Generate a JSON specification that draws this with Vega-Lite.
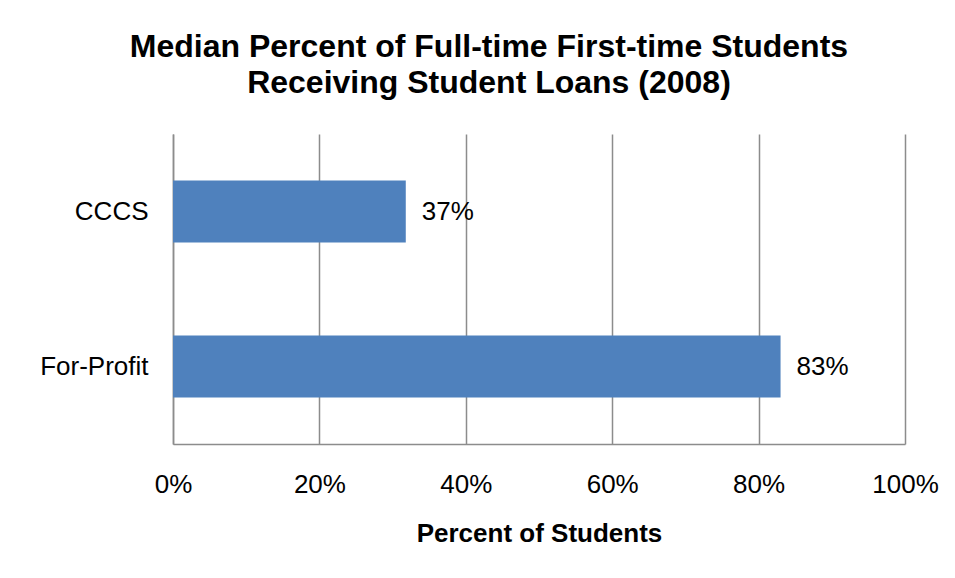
{
  "$schema": "https://vega.github.io/schema/vega-lite/v6.json",
  "width": 732,
  "height": 310,
  "autosize": {"type": "none"},
  "padding": {"left": 173, "top": 134, "right": 50, "bottom": 134},
  "background": "white",
  "title": {
    "text": ["Median Percent of Full-time First-time Students", "Receiving Student Loans (2008)"],
    "font": "Liberation Sans",
    "fontSize": 32,
    "fontWeight": "bold",
    "lineHeight": 36,
    "color": "black",
    "anchor": "middle",
    "frame": "bounds",
    "offset": 34
  },
  "data": {
    "values": [
      {"sector": "CCCS", "value": 31.8, "label": "37%"},
      {"sector": "For-Profit", "value": 83, "label": "83%"}
    ]
  },
  "config": {
    "view": {"stroke": null},
    "font": "Liberation Sans",
    "axis": {
      "labelFont": "Liberation Sans",
      "titleFont": "Liberation Sans",
      "labelColor": "black",
      "titleColor": "black",
      "domainColor": "#8c8c8c",
      "gridColor": "#8c8c8c",
      "domainWidth": 1.5,
      "gridWidth": 1.5
    }
  },
  "encoding": {
    "y": {
      "field": "sector",
      "type": "nominal",
      "sort": ["CCCS", "For-Profit"],
      "scale": {"paddingInner": 0.6, "paddingOuter": 0.3},
      "axis": {
        "title": null,
        "ticks": false,
        "grid": false,
        "domain": true,
        "labelFontSize": 26,
        "labelPadding": 25
      }
    },
    "x": {
      "field": "value",
      "type": "quantitative",
      "scale": {"domain": [0, 100], "nice": false},
      "axis": {
        "title": "Percent of Students",
        "titleFontSize": 26,
        "titleFontWeight": "bold",
        "titlePadding": 23,
        "values": [0, 20, 40, 60, 80, 100],
        "labelExpr": "datum.value + '%'",
        "labelFontSize": 26,
        "labelPadding": 27,
        "ticks": false,
        "grid": true,
        "domain": true,
        "labelFlush": false
      }
    }
  },
  "layer": [
    {"mark": {"type": "bar", "color": "#4F81BD"}},
    {
      "mark": {"type": "text", "align": "left", "baseline": "middle", "dx": 16, "fontSize": 26, "color": "black"},
      "encoding": {"text": {"field": "label"}}
    }
  ]
}
